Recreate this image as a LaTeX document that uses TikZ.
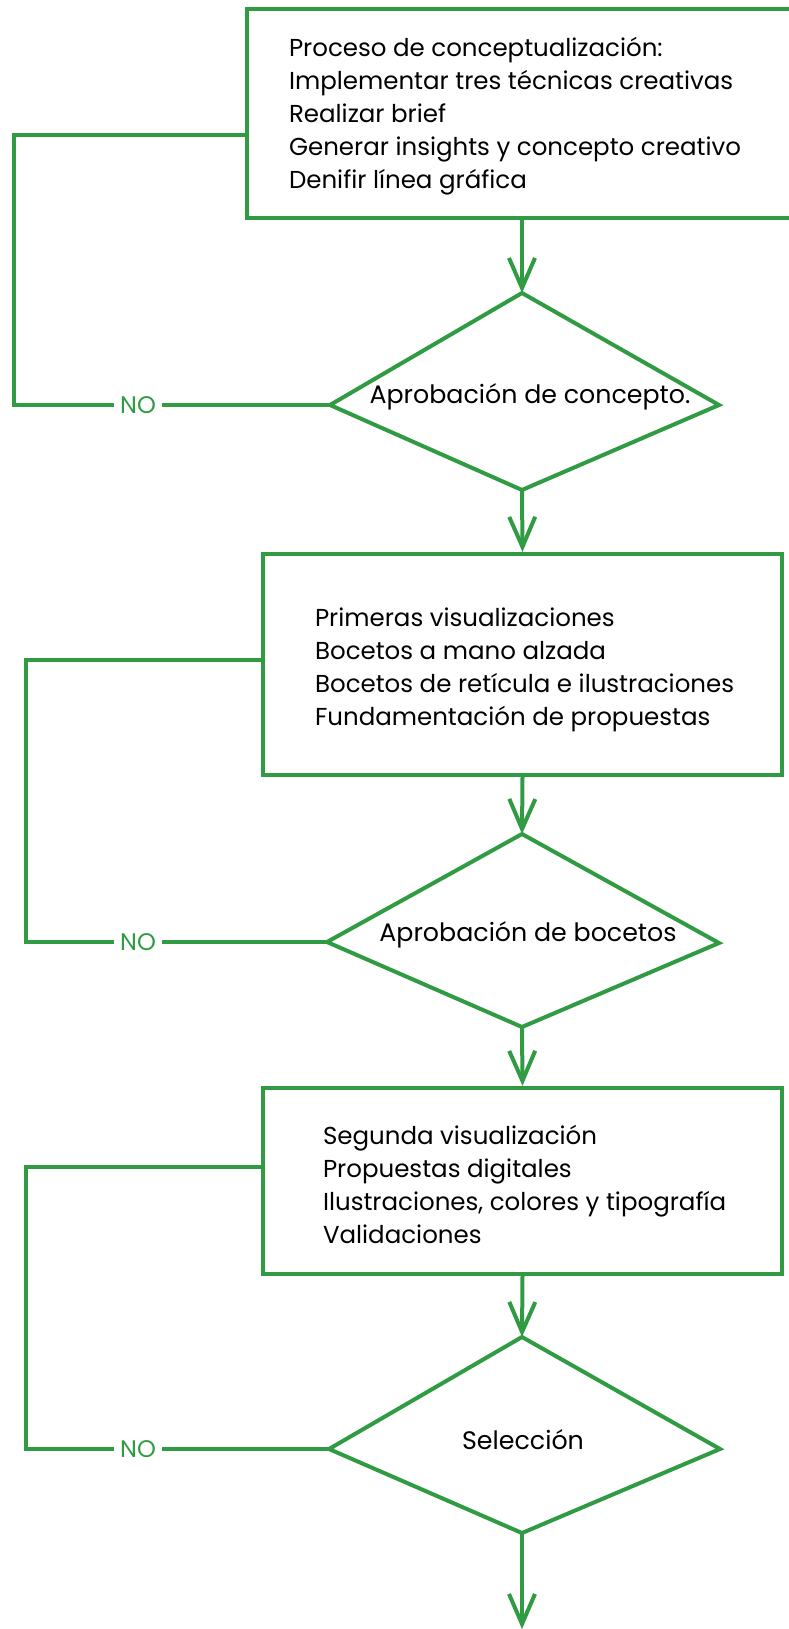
\documentclass[tikz,border=0pt]{standalone}
\usepackage{fontspec}
\setmainfont{Poppins}
\usetikzlibrary{arrows.meta, positioning}
\definecolor{flowgreen}{RGB}{48,155,66}
\tikzset{
  stagebox/.style={draw=flowgreen, line width=4.3pt, rectangle, inner sep=0pt},
  stagetext/.style={anchor=west, inner sep=0pt, align=left, font=\fontsize{24.5}{33}\selectfont},
  question/.style={inner sep=0pt, font=\fontsize{25.3}{28}\selectfont},
  nolabel/.style={text=flowgreen, inner sep=6pt, font=\fontsize{24}{28}\selectfont},
  flow/.style={draw=flowgreen, line width=4pt},
  arrow/.style={flow, -{Straight Barb[length=30pt, width=26pt]}}
}
\begin{document}
\begin{tikzpicture}[x=1pt, y=-1pt]
\useasboundingbox (0,0) rectangle (789,1629);
\clip (0,0) rectangle (789,1629);
% process boxes
\node [stagebox, minimum width=550pt, minimum height=209pt] (conc) at (522,113.5) {};
\node [stagetext] (conctext) at ([xshift=44pt, yshift=-3pt]conc.west)
  {Proceso de conceptualización:\\Implementar tres técnicas creativas\\Realizar brief\\Generar insights y concepto creativo\\Denifir línea gráfica};
\node [stagebox, minimum width=519pt, minimum height=221pt] (sketch) at (522.5,664.5) {};
\node [stagetext] (sketchtext) at ([xshift=54pt, yshift=-5pt]sketch.west)
  {Primeras visualizaciones\\Bocetos a mano alzada\\Bocetos de retícula e ilustraciones\\Fundamentación de propuestas};
\node [stagebox, minimum width=519pt, minimum height=186pt] (digital) at (522.5,1181) {};
\node [stagetext] (digitaltext) at ([xshift=62pt, yshift=-3pt]digital.west)
  {Segunda visualización\\Propuestas digitales\\Ilustraciones, colores y tipografía\\Validaciones};
% decisions
\coordinate (d1t) at (522,293); \coordinate (d1r) at (719,405);
\coordinate (d1b) at (522,490); \coordinate (d1l) at (330,405);
\draw [flow] (d1t) -- (d1r) -- (d1b) -- (d1l) -- cycle;
\node [question] (q1) at (530,397) {Aprobación de concepto.};
\coordinate (d2t) at (522,834); \coordinate (d2r) at (719,943);
\coordinate (d2b) at (522,1027); \coordinate (d2l) at (327,942);
\draw [flow] (d2t) -- (d2r) -- (d2b) -- (d2l) -- cycle;
\node [question] (q2) at (528,935) {Aprobación de bocetos};
\coordinate (d3t) at (522,1337); \coordinate (d3r) at (720,1449);
\coordinate (d3b) at (522,1533); \coordinate (d3l) at (329,1449);
\draw [flow] (d3t) -- (d3r) -- (d3b) -- (d3l) -- cycle;
\node [question] (q3) at (523,1440) {Selección};
% main arrows
\draw [arrow] (conc.south) -- (d1t);
\draw [arrow] (d1b) -- (sketch.north);
\draw [arrow] (sketch.south) -- (d2t);
\draw [arrow] (d2b) -- (digital.north);
\draw [arrow] (digital.south) -- (d3t);
\coordinate (out) at (522,1629);
\draw [arrow] (d3b) -- (out);
% NO loops
\node [nolabel] (no1) at (138,405) {NO};
\coordinate (back1) at (14,135);
\draw [flow] (d1l) -- (no1.east);
\draw [flow] (no1.west) -| (back1) -- (back1 -| conc.west);
\node [nolabel] (no2) at (138,942) {NO};
\coordinate (back2) at (26,660);
\draw [flow] (d2l) -- (no2.east);
\draw [flow] (no2.west) -| (back2) -- (back2 -| sketch.west);
\node [nolabel] (no3) at (138,1449) {NO};
\coordinate (back3) at (26,1167);
\draw [flow] (d3l) -- (no3.east);
\draw [flow] (no3.west) -| (back3) -- (back3 -| digital.west);
\end{tikzpicture}
\end{document}
